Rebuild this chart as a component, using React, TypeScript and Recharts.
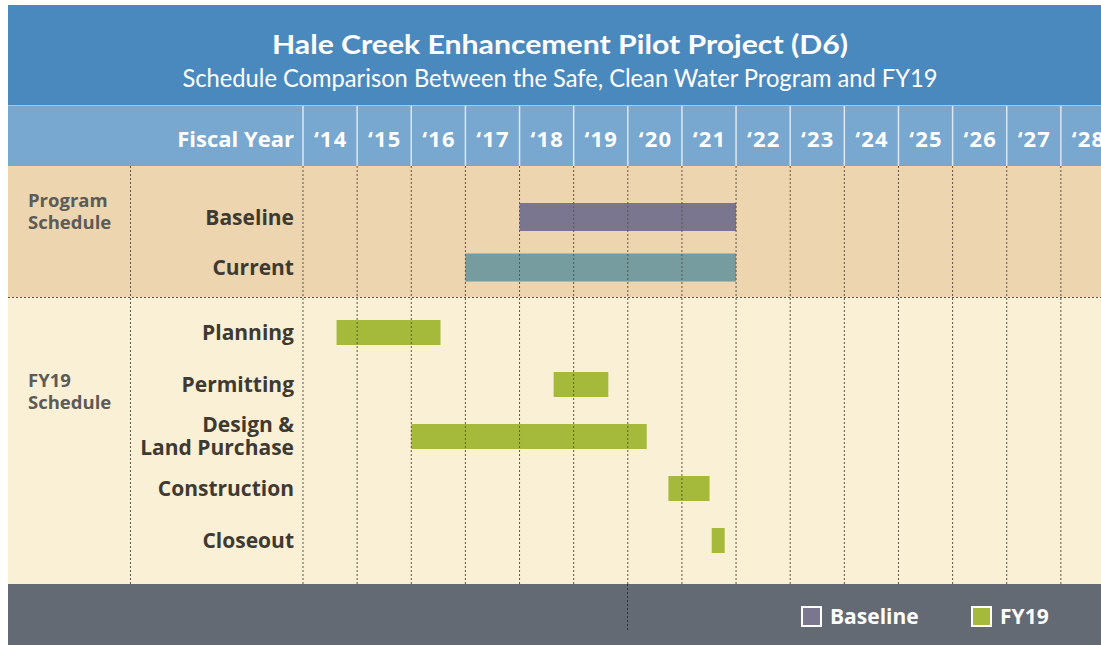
import React from "react";
import { BarChart, Bar, XAxis, YAxis, Cell, ReferenceLine } from "recharts";

// fiscal year ticks ('14 .. '28)
const fiscalYears = [14, 15, 16, 17, 18, 19, 20, 21, 22, 23, 24, 25, 26, 27, 28];

// program schedule rows
const programRows = ["Baseline", "Current"];
const programStart = [18.0, 17.0];
const programEnd = [22.0, 22.0];

// FY19 schedule rows
const fy19Rows = ["Planning", "Permitting", "Design &\nLand Purchase", "Construction", "Closeout"];
const fy19Start = [14.62, 18.63, 16.0, 20.75, 21.55];
const fy19End = [16.54, 19.64, 20.35, 21.51, 21.79];

const legendItems = ["Baseline", "FY19"];

const FONT = "Lato, 'DejaVu Sans', sans-serif";
const BOLD = "'Open Sans', Lato, 'DejaVu Sans', sans-serif";
const CHART_W = 1107;
const AXIS_W = 295;
const DOMAIN: [number, number] = [14, 29];
const COL = (CHART_W - AXIS_W) / (DOMAIN[1] - DOMAIN[0]);

const BASELINE = "#7b768f";
const CURRENT = "#769c9f";
const GREEN = "#a5b93a";
const GRID = "#5f5648";

const programData = programRows.map((name, i) => ({
  name,
  range: [programStart[i], programEnd[i]],
}));
const fy19Data = fy19Rows.map((name, i) => ({
  name,
  range: [fy19Start[i], fy19End[i]],
}));

const YearTick = ({ x, payload }: any) => (
  <g>
    <line x1={x} x2={x} y1={1} y2={61} stroke="#dbe7f2" strokeWidth={1.5} />
    <text
      x={x + COL / 2 + 0.6}
      y={42}
      textAnchor="middle"
      fill="#ffffff"
      fontFamily={BOLD}
      fontWeight={700}
      fontSize={22}
      letterSpacing={1.2}
    >
      {`\u2018${payload.value}`}
    </text>
  </g>
);

const RowTick = ({ y, payload }: any) => {
  const lines = String(payload.value).split("\n");
  const lh = 23;
  const first = 7.5 - ((lines.length - 1) * lh) / 2;
  return (
    <text
      x={AXIS_W - 9}
      y={y}
      textAnchor="end"
      fill="#3e3a32"
      fontFamily={BOLD}
      fontWeight={700}
      fontSize={21}
    >
      {lines.map((l, i) => (
        <tspan key={l} x={AXIS_W - 9} dy={i === 0 ? first : lh}>
          {l}
        </tspan>
      ))}
    </text>
  );
};

const gridLines = fiscalYears.map((v) => (
  <ReferenceLine key={v} x={v} stroke={GRID} strokeDasharray="2 2" strokeWidth={1} />
));

export default function App() {
  return (
    <div
      style={{
        position: "fixed",
        left: 8,
        top: 5,
        width: 1093,
        height: 640,
        overflow: "hidden",
        fontFamily: FONT,
      }}
    >
      {/* background bands */}
      <div style={{ position: "absolute", left: 0, top: 0, width: 1093, height: 100, background: "#4a89be" }} />
      <div style={{ position: "absolute", left: 0, top: 100, width: 1093, height: 61, background: "#78a7d0" }} />
      <div style={{ position: "absolute", left: 0, top: 161, width: 1093, height: 131, background: "#ecd5af" }} />
      <div style={{ position: "absolute", left: 0, top: 292, width: 1093, height: 287, background: "#faf0d5" }} />
      <div style={{ position: "absolute", left: 0, top: 579, width: 1093, height: 61, background: "#636a74" }} />

      {/* program schedule + fiscal year axis */}
      <div style={{ position: "absolute", left: 0, top: 100 }}>
        <BarChart
          width={CHART_W}
          height={192}
          data={programData}
          layout="vertical"
          margin={{ top: 0, right: 0, bottom: 0, left: 0 }}
        >
          <XAxis
            type="number"
            orientation="top"
            domain={DOMAIN}
            ticks={fiscalYears}
            interval={0}
            height={61}
            axisLine={false}
            tickLine={false}
            tick={<YearTick />}
            allowDataOverflow
          />
          <YAxis
            type="category"
            dataKey="name"
            width={AXIS_W}
            axisLine={false}
            tickLine={false}
            padding={{ top: 26, bottom: 4 }}
            tick={<RowTick />}
          />
          {gridLines}
          <Bar dataKey="range" barSize={28} isAnimationActive={false}>
            {programData.map((_d, i) => (
              <Cell key={`p-${i}`} fill={i === 0 ? BASELINE : CURRENT} />
            ))}
          </Bar>
        </BarChart>
      </div>

      {/* FY19 schedule */}
      <div style={{ position: "absolute", left: 0, top: 292 }}>
        <BarChart
          width={CHART_W}
          height={287}
          data={fy19Data}
          layout="vertical"
          margin={{ top: 0, right: 0, bottom: 0, left: 0 }}
        >
          <XAxis type="number" domain={DOMAIN} hide allowDataOverflow />
          <YAxis
            type="category"
            dataKey="name"
            width={AXIS_W}
            axisLine={false}
            tickLine={false}
            padding={{ top: 9, bottom: 18 }}
            tick={<RowTick />}
          />
          {gridLines}
          <Bar dataKey="range" barSize={25} fill={GREEN} isAnimationActive={false} />
        </BarChart>
      </div>

      {/* titles, labels and dividers */}
      <svg
        width={1093}
        height={640}
        style={{ position: "absolute", left: 0, top: 0, pointerEvents: "none" }}
      >
        <text
          x={552}
          y={49}
          textAnchor="middle"
          fill="#ffffff"
          fontFamily={FONT}
          fontWeight={700}
          fontSize={27}
          textLength={576}
          lengthAdjust="spacingAndGlyphs"
        >
          Hale Creek Enhancement Pilot Project (D6)
        </text>
        <text
          x={552}
          y={82}
          textAnchor="middle"
          fill="#ffffff"
          fontFamily={FONT}
          fontWeight={400}
          fontSize={25}
          textLength={755}
          lengthAdjust="spacingAndGlyphs"
        >
          Schedule Comparison Between the Safe, Clean Water Program and FY19
        </text>
        <line x1={0} x2={1093} y1={100.5} y2={100.5} stroke="#a9c7e2" strokeWidth={1} />
        <text
          x={286}
          y={142}
          textAnchor="end"
          fill="#ffffff"
          fontFamily={BOLD}
          fontWeight={700}
          fontSize={22}
        >
          Fiscal Year
        </text>

        <text fill="#5c5b57" fontFamily={BOLD} fontWeight={700} fontSize={18.5}>
          <tspan x={20} y={202}>Program</tspan>
          <tspan x={20} y={224}>Schedule</tspan>
        </text>
        <text fill="#5c5b57" fontFamily={BOLD} fontWeight={700} fontSize={18.5}>
          <tspan x={20} y={382}>FY19</tspan>
          <tspan x={20} y={404}>Schedule</tspan>
        </text>

        <line x1={0} x2={1093} y1={292.5} y2={292.5} stroke={GRID} strokeDasharray="2 2" />
        <line x1={122.5} x2={122.5} y1={161} y2={579} stroke={GRID} strokeDasharray="2 2" />
        <line x1={619.5} x2={619.5} y1={579} y2={627} stroke="#2f3338" strokeDasharray="2 2" />

        {legendItems.map((name, i) => {
          const x0 = i === 0 ? 794 : 964;
          return (
            <g key={name}>
              <rect
                x={x0}
                y={602}
                width={19}
                height={19}
                fill={i === 0 ? BASELINE : GREEN}
                stroke="#ffffff"
                strokeWidth={2}
              />
              <text
                x={x0 + 28}
                y={619}
                fill="#ffffff"
                fontFamily={BOLD}
                fontWeight={700}
                fontSize={21}
              >
                {name}
              </text>
            </g>
          );
        })}
      </svg>
    </div>
  );
}
